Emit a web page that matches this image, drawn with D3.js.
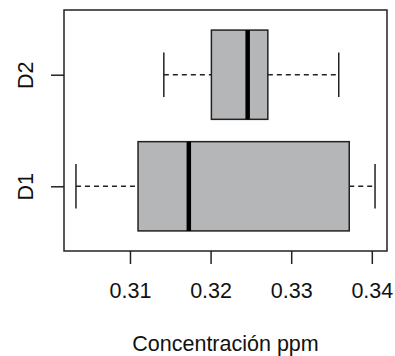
<!DOCTYPE html>
<html>
<head>
<meta charset="utf-8">
<script src="https://d3js.org/d3.v7.min.js"></script>
<style>
  body { margin: 0; background: #fff; }
  svg text { font-family: "Liberation Sans", Arial, sans-serif; fill: #111; }
</style>
</head>
<body>
<div id="chart"></div>
<script>
// boxplot summaries
var groups = ["D1", "D2"];
var lowWhisker = [0.3033, 0.3142];
var q1 = [0.3110, 0.3201];
var median = [0.3173, 0.3246];
var q3 = [0.3372, 0.3271];
var highWhisker = [0.3404, 0.3359];
var xTicks = [0.31, 0.32, 0.33, 0.34];

var width = 395, height = 356;
var box = { left: 64, right: 387, top: 10, bottom: 251 };
var fontSize = 21.5;

var svg = d3.select("#chart").append("svg")
    .attr("width", width)
    .attr("height", height);

// R style: data range padded by 4%
var lo = d3.min(lowWhisker), hi = d3.max(highWhisker);
var pad = (hi - lo) * 0.04;
var x = d3.scaleLinear().domain([lo - pad, hi + pad]).range([box.left, box.right]);
var y = d3.scaleLinear().domain([0.42, 2.58]).range([box.bottom, box.top]);
var unit = y(0) - y(1);

var data = groups.map(function(g, i) {
  return { name: g, pos: i + 1, lw: lowWhisker[i], q1: q1[i], med: median[i], q3: q3[i], hw: highWhisker[i] };
});

var g = svg.append("g");

var item = g.selectAll("g.box").data(data).enter().append("g").attr("class", "box");

// whiskers
item.append("line")
    .attr("x1", function(d) { return x(d.lw); })
    .attr("x2", function(d) { return x(d.q1); })
    .attr("y1", function(d) { return y(d.pos); })
    .attr("y2", function(d) { return y(d.pos); })
    .attr("stroke", "#222").attr("stroke-width", 1.5).attr("stroke-dasharray", "5,4");
item.append("line")
    .attr("x1", function(d) { return x(d.q3); })
    .attr("x2", function(d) { return x(d.hw); })
    .attr("y1", function(d) { return y(d.pos); })
    .attr("y2", function(d) { return y(d.pos); })
    .attr("stroke", "#222").attr("stroke-width", 1.5).attr("stroke-dasharray", "5,4");

// staples
["lw", "hw"].forEach(function(k) {
  item.append("line")
      .attr("x1", function(d) { return x(d[k]); })
      .attr("x2", function(d) { return x(d[k]); })
      .attr("y1", function(d) { return y(d.pos + 0.2); })
      .attr("y2", function(d) { return y(d.pos - 0.2); })
      .attr("stroke", "#222").attr("stroke-width", 1.5);
});

// boxes
item.append("rect")
    .attr("x", function(d) { return x(d.q1); })
    .attr("width", function(d) { return x(d.q3) - x(d.q1); })
    .attr("y", function(d) { return y(d.pos + 0.4); })
    .attr("height", 0.8 * unit)
    .attr("fill", "#b4b6b8")
    .attr("stroke", "#222").attr("stroke-width", 1.5);

// medians
item.append("line")
    .attr("x1", function(d) { return x(d.med); })
    .attr("x2", function(d) { return x(d.med); })
    .attr("y1", function(d) { return y(d.pos + 0.4); })
    .attr("y2", function(d) { return y(d.pos - 0.4); })
    .attr("stroke", "#000").attr("stroke-width", 4.5);

// frame
svg.append("rect")
    .attr("x", box.left).attr("y", box.top)
    .attr("width", box.right - box.left).attr("height", box.bottom - box.top)
    .attr("fill", "none").attr("stroke", "#222").attr("stroke-width", 1.5);

// x axis
var xAxis = svg.append("g")
    .attr("transform", "translate(0," + box.bottom + ")")
    .call(d3.axisBottom(x).tickValues(xTicks).tickSize(13).tickPadding(19).tickFormat(d3.format(".2f")));
xAxis.select(".domain").remove();
xAxis.selectAll(".tick line").attr("stroke", "#222").attr("stroke-width", 1.5);
xAxis.selectAll(".tick text").attr("font-size", fontSize).style("font-family", "Liberation Sans, Arial, sans-serif").attr("fill", "#111");

// y axis
var yAxis = svg.append("g")
    .attr("transform", "translate(" + box.left + ",0)")
    .call(d3.axisLeft(y).tickValues(data.map(function(d) { return d.pos; })).tickSize(13).tickFormat(function(v) { return groups[v - 1]; }));
yAxis.select(".domain").remove();
yAxis.selectAll(".tick line").attr("stroke", "#222").attr("stroke-width", 1.5);
yAxis.selectAll(".tick text")
    .attr("x", null).attr("dy", null)
    .attr("text-anchor", "middle")
    .attr("transform", "translate(-31,0) rotate(-90)")
    .attr("font-size", fontSize).style("font-family", "Liberation Sans, Arial, sans-serif").attr("fill", "#111");

// x title
svg.append("text")
    .attr("x", (box.left + box.right) / 2)
    .attr("y", 351)
    .attr("text-anchor", "middle")
    .attr("font-size", fontSize)
    .text("Concentración ppm");
</script>
</body>
</html>
